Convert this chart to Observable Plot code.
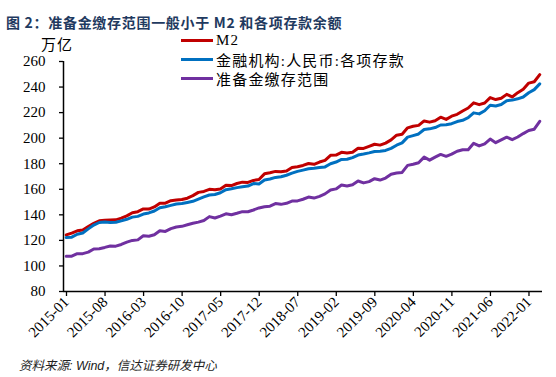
<!DOCTYPE html>
<html>
<head>
<meta charset="utf-8">
<script src="https://cdn.jsdelivr.net/npm/d3@7"></script>
<script src="https://cdn.jsdelivr.net/npm/@observablehq/plot@0.6"></script>
<style>
  body { margin: 0; background: #fff; }
  #wrap { position: relative; width: 556px; height: 377px; overflow: hidden; background: #fff; }
  #chart { position: absolute; left: 0; top: 0; }
  #title { position: absolute; left: 6px; top: 12px; font: bold 14px "Noto Sans CJK SC", sans-serif; letter-spacing: 0.7px; color: #1f3a60; white-space: nowrap; }
  #unit { position: absolute; left: 41px; top: 33px; font: 15px "Noto Sans CJK SC", sans-serif; letter-spacing: 1px; color: #000; }
  #legend { position: absolute; left: 181px; top: 31px; }
  .row { display: flex; align-items: center; height: 19px; font: 15px "Liberation Serif", "Noto Sans CJK SC", serif; letter-spacing: 1.2px; color: #000; white-space: nowrap; }
  .sw { display: inline-block; width: 32px; height: 3px; margin-right: 3px; }
  #caption { position: absolute; left: 19px; top: 355px; font: italic 12.5px "Liberation Sans", "Noto Sans CJK SC", sans-serif; color: #222; white-space: nowrap; }
</style>
</head>
<body>
<div id="wrap">
  <div id="chart"></div>
  <div id="title">图 2：准备金缴存范围一般小于 M2 和各项存款余额</div>
  <div id="unit">万亿</div>
  <div id="legend"></div>
  <div id="caption">资料来源: Wind，信达证券研发中心</div>
</div>
<script>
// ---- data (万亿) ----
const seriesNames = ["M2", "金融机构:人民币:各项存款", "准备金缴存范围"];
const seriesColors = ["#c00000", "#0070c0", "#7030a0"];

const m2 = [
  124.27,125.74,127.53,128.18,130.87,133.34,135.32,135.70,135.98,136.10,137.40,139.23,
  141.63,142.46,144.62,144.52,146.17,149.05,149.16,151.10,151.64,151.95,153.04,155.01,
  157.59,158.29,159.96,159.63,160.14,163.13,162.90,164.52,165.57,165.34,166.93,167.68,
  172.08,172.91,173.99,173.77,174.31,177.02,177.62,178.67,180.17,179.56,181.32,182.67,
  186.59,186.74,188.94,188.42,189.02,192.14,191.94,193.55,195.23,194.56,196.14,198.65,
  202.31,203.08,208.09,209.35,210.02,213.49,212.55,213.68,216.41,214.71,217.20,218.68,
  221.30,223.60,227.65,226.21,227.55,231.78,230.22,231.22,234.28,232.25,235.60,238.29,
  243.10,244.15,249.77
];
const deposits = [
  122.2,122.5,124.8,125.8,129.0,132.0,134.0,134.3,134.0,134.2,135.3,136.5,
  138.2,138.8,140.6,141.5,143.0,145.6,146.3,147.4,148.5,148.8,149.7,150.6,
  152.3,154.0,155.5,155.9,157.3,159.7,160.4,161.3,162.0,162.5,164.5,164.1,
  167.3,168.0,169.3,169.8,171.0,172.6,174.0,175.0,176.1,176.4,177.0,177.5,
  180.0,181.3,183.4,183.5,184.8,186.8,187.6,188.5,189.6,189.8,190.4,192.0,
  194.5,196.3,200.8,202.0,203.3,206.8,207.3,208.3,210.3,210.5,211.3,213.0,
  214.0,216.0,219.8,219.0,221.5,225.8,225.2,226.3,229.3,229.8,230.8,232.2,
  235.5,238.0,242.5
];
const reserveBase = [
  107.5,107.6,109.6,109.6,110.8,113.3,113.5,114.5,115.6,115.5,116.8,118.6,
  120.0,120.4,123.6,123.2,124.4,127.6,127.0,129.2,130.5,131.0,132.2,133.4,
  134.3,135.6,138.6,137.5,139.0,140.8,140.1,141.2,142.5,142.4,143.8,145.4,
  146.3,146.8,148.8,148.2,149.0,150.8,150.9,152.2,153.9,153.1,154.5,156.4,
  159.4,160.3,163.3,162.6,163.5,166.5,165.0,166.0,168.3,167.2,168.8,171.8,
  172.7,173.2,178.7,179.6,180.8,185.2,182.8,185.2,187.3,185.8,187.5,189.8,
  190.9,191.0,196.0,193.9,195.6,199.3,196.5,198.7,200.8,198.8,200.9,203.6,
  206.0,207.0,213.2
];
const tickLabels = ["2015-01","2015-08","2016-03","2016-10","2017-05","2017-12","2018-07",
                    "2019-02","2019-09","2020-04","2020-11","2021-06","2022-01"];
const yTicks = [80,100,120,140,160,180,200,220,240,260];

// month categories 2015-01 .. 2022-03
const months = d3.utcMonth.range(new Date(Date.UTC(2015,0,1)), new Date(Date.UTC(2022,3,1))).map(d3.utcFormat("%Y-%m"));
const allValues = [m2, deposits, reserveBase];
const rows = allValues.flatMap((vals, s) => vals.map((v, i) => ({name: seriesNames[s], i, v})));
const xTicks = tickLabels.map(l => months.indexOf(l));

const chart = Plot.plot({
  width: 556,
  height: 377,
  marginLeft: 63,
  marginRight: 14,
  marginTop: 61,
  marginBottom: 86,
  style: {fontFamily: "'Liberation Serif', serif", fontSize: "15px", color: "#000", background: "transparent"},
  x: {type: "linear", domain: [0, months.length]},
  y: {domain: [80, 260]},
  color: {domain: seriesNames, range: seriesColors},
  marks: [
    Plot.axisY({ticks: yTicks, tickSize: 4, tickPadding: 14, label: null, fontSize: 15, stroke: "#000", strokeWidth: 1.3}),
    Plot.axisX({ticks: xTicks, tickFormat: i => months[i], tickRotate: -45, tickSize: 5, tickPadding: 3, dx: 3, label: null, fontSize: 15, stroke: "#000", strokeWidth: 1.3}),
    Plot.lineY(rows, {x: d => d.i + 0.5, y: "v", z: "name", stroke: "name", strokeWidth: 3, curve: "linear"}),
    Plot.ruleX([0], {stroke: "#000", strokeWidth: 1.5}),
    Plot.ruleY([80], {stroke: "#000", strokeWidth: 1.5})
  ]
});
document.getElementById("chart").appendChild(chart);

const legend = document.getElementById("legend");
seriesNames.forEach((n, k) => {
  const row = document.createElement("div");
  row.className = "row";
  const sw = document.createElement("span");
  sw.className = "sw";
  sw.style.background = seriesColors[k];
  const t = document.createElement("span");
  t.textContent = n;
  row.appendChild(sw); row.appendChild(t);
  legend.appendChild(row);
});
</script>
</body>
</html>
